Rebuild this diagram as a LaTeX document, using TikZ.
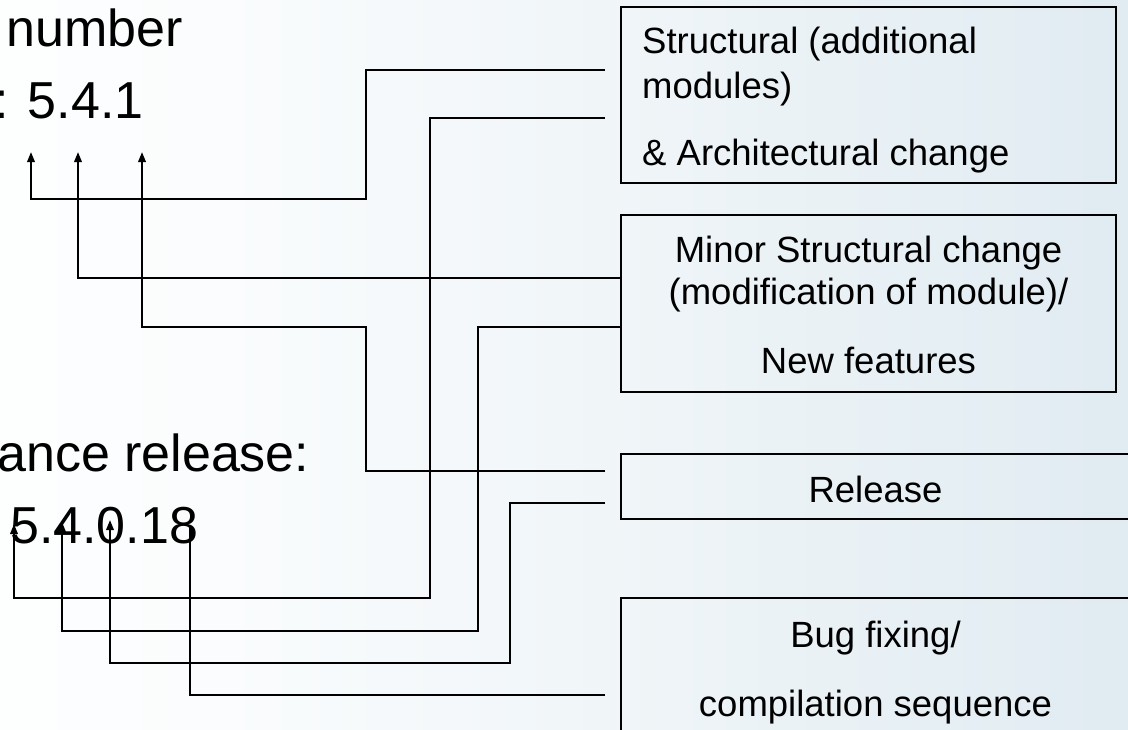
\documentclass[tikz,border=0pt]{standalone}
\usepackage{fontspec}
\setmainfont{Liberation Sans}
\usetikzlibrary{arrows.meta}
\definecolor{bgA}{RGB}{250,252,253}
\definecolor{bgB}{RGB}{238,244,247}
\definecolor{bgC}{RGB}{222,234,241}
\definecolor{bgright}{RGB}{200,222,233}
\pgfdeclarehorizontalshading{bgshade}{100bp}{color(0bp)=(white); color(20bp)=(white); color(35bp)=(bgA); color(55bp)=(bgB); color(78bp)=(bgC); color(100bp)=(bgright)}
\tikzset{
  conn/.style={line width=2pt, draw=black},
  tip/.style={-{Triangle[length=10pt,width=7.5pt]}},
  boxnode/.style={draw=black, line width=2pt, inner sep=0pt, rectangle},
  bigtext/.style={anchor=base west, inner sep=0pt, font=\fontsize{52}{60}\selectfont},
  boxtext/.style={anchor=base, inner sep=0pt, font=\fontsize{36.5}{44}\selectfont},
  boxtextl/.style={anchor=base west, inner sep=0pt, font=\fontsize{36.5}{44}\selectfont}
}
\begin{document}
\begin{tikzpicture}[x=1pt, y=-1pt]
\useasboundingbox (0,0) rectangle (1128,729);
\shade[shading=bgshade] (0,0) rectangle (1128,729);

% left texts
\node[bigtext] (num) at (6.6,46) {number};
\node[bigtext] (v1) at (-6,118) {: 5.4.1};
\node[bigtext] (rel) at (-3,471) {ance release:};
\node[bigtext] (v2) at (10,543) {5.4.0.18};

% boxes
\node[boxnode, minimum width=495pt, minimum height=176pt] (b1) at (868.5,95) {};
\node[boxnode, minimum width=495pt, minimum height=177pt] (b2) at (868.5,303.5) {};
\node[boxnode, minimum width=509pt, minimum height=65pt] (b3) at (875.5,486.5) {};
\node[boxnode, minimum width=509pt, minimum height=162pt] (b4) at (875.5,679) {};

% box texts
\node[boxtextl] (b1a) at (642,53) {Structural (additional};
\node[boxtextl] (b1b) at (642,98) {modules)};
\node[boxtextl] (b1c) at (642,165) {\& Architectural change};
\node[boxtext] (b2a) at (868.5,262) {Minor Structural change};
\node[boxtext] (b2b) at (868.5,304) {(modification of module)/};
\node[boxtext] (b2c) at (868.5,373) {New features};
\node[boxtext] (b3a) at (875.5,502) {Release};
\node[boxtext] (b4a) at (875.5,647) {Bug fixing/};
\node[boxtext] (b4b) at (875.5,716) {compilation sequence};

% connector ends
\coordinate (s1) at ([xshift=-15pt,yshift=25pt]b1.west);
\coordinate (s2) at ([xshift=-15pt,yshift=-23pt]b1.west);
\coordinate (s3) at ([yshift=25.5pt]b2.west);
\coordinate (s4) at ([yshift=-23.5pt]b2.west);
\coordinate (s5) at ([xshift=-15pt,yshift=15.5pt]b3.west);
\coordinate (s6) at ([xshift=-15pt,yshift=-16.5pt]b3.west);
\coordinate (s7) at ([xshift=-15pt,yshift=-16pt]b4.west);

\coordinate (t1) at (31,152);
\coordinate (t2) at (78,152);
\coordinate (t3) at (142,152);
\coordinate (u1) at (14,524);
\coordinate (u2) at (62,522);
\coordinate (u3) at (110,520);
\coordinate (u4) at (190,525);

% connectors
\draw[conn, tip] (s1) -| (366,199) -| (t1);
\draw[conn, tip] (s2) -| (430,598) -| (u1);
\draw[conn, tip] (s3) -| (t2);
\draw[conn, tip] (s4) -| (478,631) -| (u2);
\draw[conn, tip] (s5) -| (366,327) -| (t3);
\draw[conn, tip] (s6) -| (510,663) -| (u3);
\draw[conn] (s7) -| (u4);
\end{tikzpicture}
\end{document}
